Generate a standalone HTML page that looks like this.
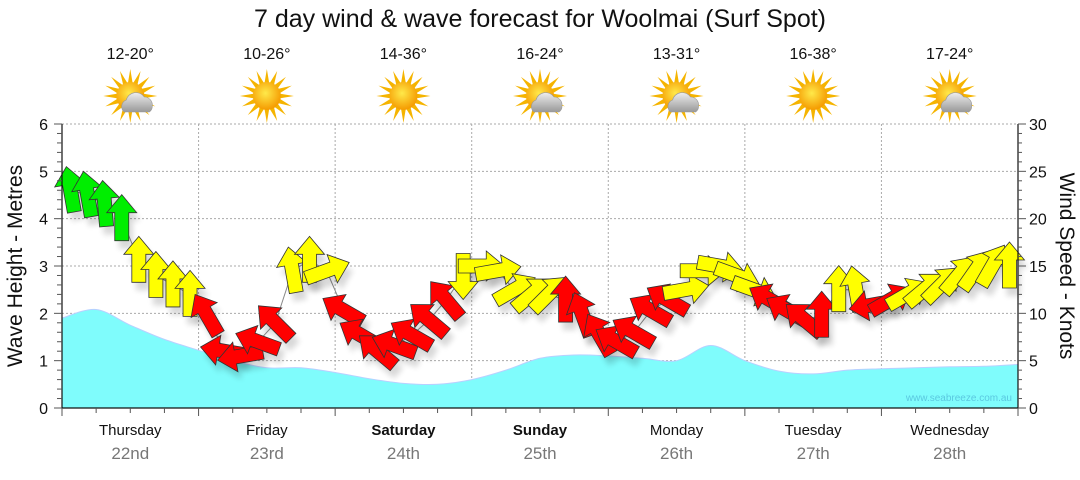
<!DOCTYPE html>
<html><head><meta charset="utf-8"><style>
body{margin:0;background:#fff;width:1080px;height:475px;overflow:hidden;font-family:"Liberation Sans","DejaVu Sans",sans-serif}
</style></head><body>
<svg id="chart" width="1080" height="475" xmlns="http://www.w3.org/2000/svg" font-family="Liberation Sans, DejaVu Sans, sans-serif">
<defs>
<radialGradient id="sunG" cx="45%" cy="40%" r="60%"><stop offset="0" stop-color="#ffe94a"/><stop offset="1" stop-color="#f59a00"/></radialGradient>
<linearGradient id="cloudG" x1="0" y1="0" x2="0" y2="1"><stop offset="0" stop-color="#eee"/><stop offset="1" stop-color="#999"/></linearGradient>
<filter id="sh" x="-50%" y="-50%" width="200%" height="200%"><feGaussianBlur stdDeviation="3"/></filter>
</defs>
<text x="540" y="27" font-size="25" text-anchor="middle" fill="#111">7 day wind &amp; wave forecast for Woolmai (Surf Spot)</text>
<g id="topG"></g>
<g id="gridG"></g>
<g id="waveG"></g>
<g id="windG"></g>
<g id="axesG"></g>
<text transform="translate(22,266) rotate(-90)" font-size="21" text-anchor="middle" fill="#111">Wave Height - Metres</text>
<text transform="translate(1060,266) rotate(90)" font-size="21" text-anchor="middle" fill="#111">Wind Speed - Knots</text>
<text x="1012" y="401" font-size="10" text-anchor="end" fill="#5bc8e0">www.seabreeze.com.au</text>
</svg>
<script>
const days=["Thursday","Friday","Saturday","Sunday","Monday","Tuesday","Wednesday"];
const dates=["22nd","23rd","24th","25th","26th","27th","28th"];
const temps=["12-20°","10-26°","14-36°","16-24°","13-31°","16-38°","17-24°"];
const cloudy=[1,0,0,1,1,0,1];
const waveHeights=[1.9,2.08,1.75,1.45,1.22,1.0,0.85,0.85,0.75,0.62,0.52,0.5,0.6,0.8,1.05,1.12,1.1,1.05,1.0,1.32,1.0,0.78,0.72,0.8,0.83,0.85,0.87,0.88,0.92];
const windSpeeds=[23,22.5,21.5,20,15.6,14,13,12, 9.8,6,5.5,7,9,14.5,15.6,14.5, 10.3,7.7,6,6.6,7.7,9.3,11.4,14, 15,14.5,12.5,12,12,11.4,9.8,7.7, 7,8,10.3,11.4,12.5,14.5,15,14, 12.5,11.4,10.3,9.3,9.8,12.5,12.5,10.9, 11.4,12,12.5,13,14,14.5,15,15];
const windDirs=[-10,-10,-5,0,0,0,0,0, -30,-80,-100,-70,-45,-10,0,70, -60,-60,-50,-70,-60,-50,-40,180, 90,80,60,50,45,0,-20,-30, -60,-60,-60,-60,80,90,100,110, 110,-60,-60,-50,0,0,-10,-100, 60,60,50,45,40,35,30,0];
const windColors=["g","g","g","g","y","y","y","y","r","r","r","r","r","y","y","y","r","r","r","r","r","r","r","y","y","y","y","y","y","r","r","r","r","r","r","r","y","y","y","y","y","r","r","r","r","y","y","r","r","y","y","y","y","y","y","y"];
const dayBold=[0,0,1,1,0,0,0];

const NS="http://www.w3.org/2000/svg";
const X0=62,X1=1018,Y0=408,Y1=124;
const dayW=(X1-X0)/7;
const xTime=h=>X0+h/168*(X1-X0);
const yWave=m=>Y0-m/6*(Y0-Y1);
const yWind=k=>Y0-k/30*(Y0-Y1);
function el(t,a,p){const e=document.createElementNS(NS,t);for(const k in a)e.setAttribute(k,a[k]);p.appendChild(e);return e;}
const topGrp=document.getElementById('topG'),gridGrp=document.getElementById('gridG'),waveGrp=document.getElementById('waveG'),windGrp=document.getElementById('windG'),axesGrp=document.getElementById('axesG');

for(let m=1;m<=6;m++){const l=el('line',{x1:X0,x2:X1,y1:yWave(m),y2:yWave(m),stroke:'#aaa','stroke-dasharray':'2,2'},gridGrp);

}
for(let d=1;d<7;d++){const l=el('line',{x1:X0+d*dayW,x2:X0+d*dayW,y1:Y1,y2:Y0,stroke:'#aaa','stroke-dasharray':'2,2'},gridGrp);

}

const wp=waveHeights.map((v,i)=>[xTime(i*6),yWave(v)]);
let wd='M'+X0+','+Y0+' L'+wp[0][0]+','+wp[0][1];
for(let i=0;i<wp.length-1;i++){
  const p0=wp[Math.max(0,i-1)],p1=wp[i],p2=wp[i+1],p3=wp[Math.min(wp.length-1,i+2)];
  const c1=[p1[0]+(p2[0]-p0[0])/6,p1[1]+(p2[1]-p0[1])/6],c2=[p2[0]-(p3[0]-p1[0])/6,p2[1]-(p3[1]-p1[1])/6];
  wd+=` C${c1[0].toFixed(1)},${c1[1].toFixed(1)} ${c2[0].toFixed(1)},${c2[1].toFixed(1)} ${p2[0].toFixed(1)},${p2[1].toFixed(1)}`;
}
wd+=' L'+X1+','+Y0+' Z';
const wa=el('path',{d:wd,fill:'#7ffcfc',stroke:'#b8d0ff','stroke-width':1},waveGrp);



let wl='';
windSpeeds.forEach((v,i)=>{wl+=(i?' L':'M')+xTime(i*3+1.5).toFixed(1)+','+yWind(v).toFixed(1);});
const wline=el('path',{d:wl,fill:'none',stroke:'#888','stroke-width':1},windGrp);


const cmap={g:'#00ee00',y:'#ffff00',r:'#ff0000'};
const arrowPts='0,-24 15,-6 7,-6 7,22 -7,22 -7,-6 -15,-6';
windSpeeds.forEach((v,i)=>{
  const x=xTime(i*3+1.5),y=yWind(v);
  const s=el('polygon',{points:arrowPts,fill:'#000',opacity:0.15,filter:'url(#sh)',transform:`translate(${x+4},${y+8}) rotate(${windDirs[i]})`},windGrp);
  
  
});
windSpeeds.forEach((v,i)=>{
  const x=xTime(i*3+1.5),y=yWind(v);
  const a=el('polygon',{points:arrowPts,fill:cmap[windColors[i]],stroke:'#333','stroke-width':0.8,transform:`translate(${x},${y}) rotate(${windDirs[i]})`},windGrp);
  
  
});

const ax=el('path',{d:`M${X0},${Y1} L${X0},${Y0} L${X1},${Y0} L${X1},${Y1}`,fill:'none',stroke:'#111','stroke-width':1.2},axesGrp);


for(let i=0;i<=30;i++){const m=i*0.2;const y=yWave(m);const maj=i%5==0;
 el('line',{x1:X0-(maj?8:5),x2:X0,y1:y,y2:y,stroke:'#555'},axesGrp);}
for(let m=0;m<=6;m++){const t=el('text',{x:48,y:yWave(m)+6,'font-size':16,'text-anchor':'end',fill:'#111'},axesGrp);t.textContent=m;

}
for(let k=0;k<=30;k+=1){const y=yWind(k);const maj=k%5==0;
 el('line',{x1:X1,x2:X1+(maj?8:4),y1:y,y2:y,stroke:'#555'},axesGrp);}
for(let k=0;k<=30;k+=5){const t=el('text',{x:1029,y:yWind(k)+6,'font-size':16,fill:'#111'},axesGrp);t.textContent=k;

}
for(let h=0;h<=168;h+=6){const x=xTime(h);el('line',{x1:x,x2:x,y1:Y0,y2:Y0+(h%24==0?8:5),stroke:'#555'},axesGrp);}
days.forEach((n,i)=>{const cx=X0+(i+0.5)*dayW;
 const t=el('text',{x:cx,y:435,'font-size':15,'text-anchor':'middle',fill:'#111','font-weight':dayBold[i]?'bold':'normal'},axesGrp);t.textContent=n;
 
 
 const t2=el('text',{x:cx,y:459,'font-size':17,'text-anchor':'middle',fill:'#777'},axesGrp);t2.textContent=dates[i];
 
 
 const t3=el('text',{x:cx,y:59,'font-size':16,'text-anchor':'middle',fill:'#111'},topGrp);t3.textContent=temps[i];
 
 
 const g=el('g',{transform:`translate(${cx},${96})`},topGrp);
 
 
 for(let r=0;r<16;r++){el('polygon',{points:'-2.5,-12 0,-27 2.5,-12',fill:'#f5b400',transform:`rotate(${r*22.5})`},g);}
 el('circle',{r:14,fill:'url(#sunG)'},g);
 if(cloudy[i]){el('path',{d:'M-6,16 a7,7 0 0 1 2,-12 a10,10 0 0 1 18,-3 a8,8 0 0 1 8,9 a7,7 0 0 1 -3,6 Z',fill:'url(#cloudG)',stroke:'#999','stroke-width':0.6},g);}
});
</script>
</body></html>
